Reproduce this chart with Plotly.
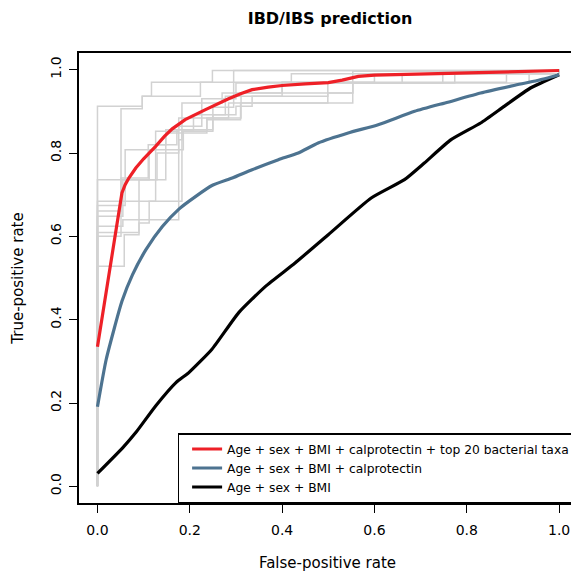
import plotly.graph_objects as go

# ---- data ----
red_fpr = [0, 0.053, 0.06, 0.068, 0.083, 0.10, 0.126, 0.145, 0.162, 0.19, 0.234, 0.26, 0.284, 0.31, 0.335,
           0.37, 0.40, 0.45, 0.50, 0.53, 0.565, 0.60, 0.65, 0.70, 0.76, 0.87, 1.0]
red_tpr = [0.335, 0.704, 0.724, 0.74, 0.764, 0.786, 0.816, 0.84, 0.858, 0.88, 0.904, 0.918, 0.93, 0.942, 0.952,
           0.958, 0.962, 0.966, 0.969, 0.975, 0.984, 0.987, 0.988, 0.988, 0.991, 0.994, 0.998]

blue_fpr = [0, 0.019, 0.053, 0.076, 0.105, 0.141, 0.177, 0.213, 0.248, 0.292, 0.335, 0.392, 0.435, 0.478,
            0.543, 0.608, 0.687, 0.759, 0.830, 0.902, 0.953, 1.0]
blue_tpr = [0.191, 0.305, 0.444, 0.508, 0.568, 0.624, 0.666, 0.696, 0.722, 0.740, 0.760, 0.784, 0.800, 0.824,
            0.848, 0.868, 0.900, 0.922, 0.944, 0.962, 0.974, 0.988]

black_fpr = [0, 0.055, 0.083, 0.126, 0.170, 0.198, 0.248, 0.306, 0.364, 0.428, 0.50, 0.593, 0.665, 0.708,
             0.766, 0.830, 0.881, 0.938, 1.0]
black_tpr = [0.031, 0.093, 0.129, 0.193, 0.249, 0.273, 0.329, 0.417, 0.480, 0.536, 0.604, 0.692, 0.736, 0.776,
             0.832, 0.872, 0.912, 0.956, 0.988]

fold_fpr = [
    [0, 0, 0.097, 0.117, 0.249, 1],
    [0, 0, 0.051, 0.097, 0.223, 0.295, 1],
    [0, 0, 0.112, 0.186, 0.237, 0.31, 0.553, 0.748, 1],
    [0, 0, 0.126, 0.148, 0.25, 0.30, 0.335, 0.499, 0.774, 1],
    [0, 0, 0.06, 0.126, 0.176, 0.284, 0.499, 0.553, 1],
    [0, 0, 0.055, 0.176, 0.183, 0.27, 0.40, 0.886, 1],
    [0, 0, 0.058, 0.09, 0.148, 0.237, 0.311, 0.553, 0.935, 1],
    [0, 0, 0.051, 0.11, 0.172, 0.208, 0.277, 0.40, 0.60, 1],
    [0, 0, 0.09, 0.112, 0.183, 0.25, 0.295, 0.42, 1],
    [0, 0, 0.055, 0.129, 0.176, 0.226, 0.30, 0.66, 1],
]
fold_tpr = [
    [0, 0.912, 0.936, 0.970, 0.998, 1],
    [0, 0.600, 0.906, 0.936, 0.970, 0.998, 1],
    [0, 0.736, 0.808, 0.852, 0.880, 0.92, 0.968, 0.996, 1],
    [0, 0.684, 0.820, 0.856, 0.892, 0.912, 0.936, 0.968, 0.996, 1],
    [0, 0.674, 0.808, 0.852, 0.884, 0.920, 0.944, 0.996, 1],
    [0, 0.624, 0.640, 0.832, 0.920, 0.944, 0.970, 0.996, 1],
    [0, 0.528, 0.604, 0.736, 0.848, 0.884, 0.944, 0.968, 0.996, 1],
    [0, 0.661, 0.74, 0.82, 0.856, 0.892, 0.936, 0.97, 0.99, 1],
    [0, 0.609, 0.632, 0.684, 0.852, 0.91, 0.97, 0.99, 1],
    [0, 0.648, 0.736, 0.80, 0.864, 0.93, 0.968, 0.99, 1],
]

labels = [
    "Age + sex + BMI",
    "Age + sex + BMI + calprotectin",
    "Age + sex + BMI + calprotectin + top 20 bacterial taxa",
]
tick_vals = [0, 0.2, 0.4, 0.6, 0.8, 1.0]
tick_text = ["0.0", "0.2", "0.4", "0.6", "0.8", "1.0"]

FONT = "DejaVu Sans"

fig = go.Figure()
for fx, fy in zip(fold_fpr, fold_tpr):
    fig.add_trace(go.Scatter(x=fx, y=fy, mode="lines", line=dict(color="#D2D2D2", width=1.5, shape="hv"),
                             showlegend=False, hoverinfo="skip"))

fig.add_trace(go.Scatter(x=black_fpr, y=black_tpr, mode="lines", name=labels[0],
                         line=dict(color="#000000", width=3.2, shape="spline", smoothing=0.5)))
fig.add_trace(go.Scatter(x=blue_fpr, y=blue_tpr, mode="lines", name=labels[1],
                         line=dict(color="#4D7390", width=3.2, shape="spline", smoothing=0.5)))
fig.add_trace(go.Scatter(x=red_fpr, y=red_tpr, mode="lines", name=labels[2],
                         line=dict(color="#EE2027", width=3.2)))

axis_common = dict(
    showline=True, mirror=True, linecolor="black", linewidth=1.5,
    ticks="outside", ticklen=8, tickwidth=1.3, tickcolor="black",
    showgrid=False, zeroline=False,
    tickvals=tick_vals, ticktext=tick_text,
    tickfont=dict(family=FONT, size=14, color="black"),
)

# page has an 8px body margin, so the figure is sized/offset to compensate
W, H = 571, 564
fig.update_layout(
    width=W, height=H,
    margin=dict(l=71, r=1, t=45, b=69),
    paper_bgcolor="white", plot_bgcolor="white",
    title=dict(text="<b>IBD/IBS prediction</b>", x=322 / W, xanchor="center",
               y=1 - 10 / H, yanchor="middle", font=dict(family=FONT, size=16, color="black")),
    xaxis=dict(range=[-0.04, 1.0366], ticklabelstandoff=5,
               title=dict(text="False-positive rate", font=dict(family=FONT, size=15, color="black"), standoff=22),
               **axis_common),
    yaxis=dict(range=[-0.04, 1.04], tickangle=-90, ticklabelstandoff=3,
               title=dict(text="True-positive rate", font=dict(family=FONT, size=15, color="black"), standoff=20),
               **axis_common),
    legend=dict(x=(170 - 71) / 499, y=0.0, xanchor="left", yanchor="bottom",
                bgcolor="white", bordercolor="black", borderwidth=1.5, indentation=8,
                traceorder="reversed", font=dict(family=FONT, size=12.3, color="black"),
                tracegroupgap=0),
    showlegend=True,
)

fig.write_html("out.html")
